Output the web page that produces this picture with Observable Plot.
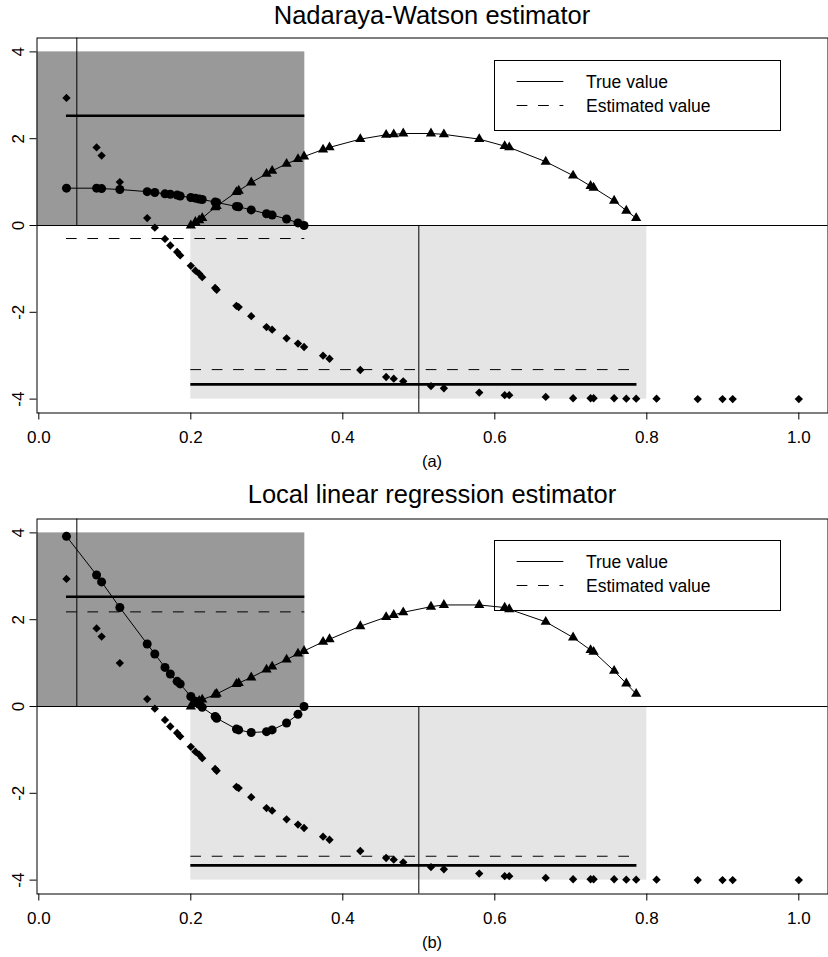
<!DOCTYPE html>
<html>
<head>
<meta charset="utf-8">
<script src="https://cdn.jsdelivr.net/npm/d3@7"></script>
<script src="https://cdn.jsdelivr.net/npm/@observablehq/plot@0.6"></script>
<style>
  body { margin: 0; background: #fff; }
  #fig { position: relative; width: 828px; height: 957px; background: #fff; }
  #fig > div { position: absolute; left: 0; }
  #overlay { position: absolute; left: 0; top: 0; pointer-events: none; }
</style>
</head>
<body>
<div id="fig">
  <div id="p1" style="top:0px"></div>
  <div id="p2" style="top:470px"></div>
</div>
<script>
// ---------------- data ----------------
const titles = ["Nadaraya-Watson estimator", "Local linear regression estimator"];
const captions = ["(a)", "(b)"];
const legendLabels = ["True value", "Estimated value"];

const xTicks = [0.0, 0.2, 0.4, 0.6, 0.8, 1.0];
const yTicks = [-4, -2, 0, 2, 4];

// observed sample (diamonds)
const sampleX = [0.0364, 0.076, 0.0826, 0.1066, 0.1426, 0.1526, 0.166, 0.173, 0.182, 0.186,
  0.200, 0.206, 0.211, 0.215, 0.232, 0.234, 0.260, 0.263, 0.2795, 0.2996,
  0.307, 0.326, 0.341, 0.349, 0.374, 0.3825, 0.423, 0.457, 0.467, 0.4795,
  0.516, 0.533, 0.5795, 0.613, 0.619, 0.667, 0.703, 0.726, 0.730, 0.757,
  0.773, 0.786, 0.8128, 0.867, 0.8996, 0.913, 1.0];
const sampleY = [2.94, 1.80, 1.61, 1.00, 0.17, -0.05, -0.31, -0.46, -0.61, -0.69,
  -0.93, -1.04, -1.11, -1.19, -1.44, -1.48, -1.85, -1.88, -2.09, -2.34,
  -2.40, -2.60, -2.72, -2.80, -3.00, -3.07, -3.33, -3.49, -3.53, -3.59,
  -3.70, -3.75, -3.85, -3.91, -3.91, -3.95, -3.98, -3.98, -3.98, -3.98,
  -3.99, -3.99, -3.99, -4.0, -4.0, -4.0, -4.0];

// windows around the two target points
const winCenter = [0.05, 0.5];
const winLo = [-0.25, 0.2];
const winHi = [0.35, 0.8];
const winYLo = [0, -4];
const winYHi = [4, 0];
const winDir = [1, -1];

// weights at x0 = 0.05 (circles) : x values
const circleX = [0.0364, 0.076, 0.0826, 0.1066, 0.1426, 0.1526, 0.166, 0.173, 0.182, 0.186,
  0.200, 0.206, 0.211, 0.215, 0.232, 0.234, 0.260, 0.263, 0.2795, 0.2996,
  0.307, 0.326, 0.341, 0.349];
// weights at x0 = 0.5 (triangles) : x values
const triX = [0.200, 0.206, 0.211, 0.215, 0.232, 0.234, 0.260, 0.263, 0.2795, 0.2996,
  0.307, 0.326, 0.341, 0.349, 0.374, 0.3825, 0.423, 0.457, 0.467, 0.4795,
  0.516, 0.533, 0.5795, 0.613, 0.619, 0.667, 0.703, 0.726, 0.730, 0.757,
  0.773, 0.786];

// panel (a): Nadaraya-Watson
const nwCircleY = [0.86, 0.86, 0.85, 0.83, 0.78, 0.76, 0.73, 0.72, 0.70, 0.68,
  0.645, 0.63, 0.61, 0.60, 0.54, 0.53, 0.44, 0.43, 0.36, 0.27,
  0.24, 0.15, 0.06, 0.0];
const nwTriY = [0.0, 0.08, 0.12, 0.17, 0.42, 0.45, 0.77, 0.80, 0.99, 1.19,
  1.26, 1.42, 1.53, 1.59, 1.75, 1.80, 1.99, 2.09, 2.10, 2.12,
  2.12, 2.10, 1.99, 1.83, 1.80, 1.47, 1.15, 0.91, 0.87, 0.57,
  0.34, 0.17];
// panel (b): local linear
const llCircleY = [3.92, 3.03, 2.87, 2.28, 1.44, 1.21, 0.90, 0.75, 0.58, 0.52,
  0.23, 0.12, 0.05, -0.02, -0.23, -0.27, -0.52, -0.54, -0.60, -0.58,
  -0.54, -0.38, -0.18, 0.0];
const llTriY = [0.0, 0.08, 0.13, 0.16, 0.27, 0.29, 0.52, 0.54, 0.67, 0.85,
  0.92, 1.08, 1.22, 1.28, 1.49, 1.55, 1.85, 2.06, 2.11, 2.17,
  2.30, 2.34, 2.34, 2.28, 2.24, 1.95, 1.59, 1.30, 1.26, 0.82,
  0.53, 0.29];

// true / estimated values at the two target points, and their drawn extents
const levelX1 = [0.0364, 0.2];
const levelX2 = [0.35, 0.787];
const trueValue = [2.53, -3.66];
const nwEstimate = [-0.30, -3.32];
const llEstimate = [2.18, -3.45];

// ---------------- drawing ----------------
const FONT = "'Liberation Sans', Arial, Helvetica, sans-serif";
const X_DOMAIN = [-0.0024, 1.0384];
const Y_LIM = 4.32;
const DASH = "10.7,10.7";

const sample = sampleX.map((x, i) => ({x, y: sampleY[i]}));
const windows = winCenter.map((c, i) => ({
  center: c, lo: Math.max(winLo[i], X_DOMAIN[0]), hi: winHi[i],
  ylo: winYLo[i], yhi: winYHi[i], dir: winDir[i]
}));

function panel({circleY, triY, estimate, height, marginTop, marginBottom}) {
  const circles = circleX.map((x, i) => ({x, y: circleY[i]}));
  const tris = triX.map((x, i) => ({x, y: triY[i]}));
  const trueLines = trueValue.map((y, i) => ({y, x1: levelX1[i], x2: levelX2[i]}));
  const estLines = estimate.map((y, i) => ({y, x1: levelX1[i], x2: levelX2[i]}));
  return Plot.plot({
    width: 828,
    height,
    marginLeft: 36.5,
    marginRight: 0.5,
    marginTop,
    marginBottom,
    x: {domain: X_DOMAIN},
    y: {domain: [-Y_LIM, Y_LIM]},
    style: {fontFamily: FONT, fontSize: "17px", background: "transparent", overflow: "visible", color: "black"},
    marks: [
      Plot.rect([windows[0]], {x1: "lo", x2: "hi", y1: "ylo", y2: "yhi", fill: "#999999"}),
      Plot.rect([windows[1]], {x1: "lo", x2: "hi", y1: "ylo", y2: "yhi", fill: "#e5e5e5"}),
      Plot.ruleY([0], {stroke: "black", strokeWidth: 1}),
      Plot.ruleX(windows, {x: "center", y1: 0, y2: d => d.dir * Y_LIM, stroke: "black", strokeWidth: 1}),
      Plot.ruleY(trueLines, {y: "y", x1: "x1", x2: "x2", stroke: "black", strokeWidth: 2.6}),
      Plot.ruleY(estLines, {y: "y", x1: "x1", x2: "x2", stroke: "black", strokeWidth: 1, strokeDasharray: DASH}),
      Plot.dot(sample, {x: "x", y: "y", symbol: "diamond2", r: 3.75, fill: "black", stroke: "none"}),
      Plot.line(circles, {x: "x", y: "y", stroke: "black", strokeWidth: 1}),
      Plot.dot(circles, {x: "x", y: "y", symbol: "circle", r: 4.5, fill: "black", stroke: "none"}),
      Plot.line(tris, {x: "x", y: "y", stroke: "black", strokeWidth: 1}),
      Plot.dot(tris, {x: "x", y: "y", symbol: "triangle", r: 3.8, fill: "black", stroke: "none"}),
      Plot.frame({stroke: "black", strokeWidth: 1}),
      Plot.axisX({ticks: xTicks, tickSize: 7, tickPadding: 11, tickFormat: d3.format(".1f"), label: null, fontSize: 17}),
      Plot.axisY({ticks: yTicks, tickSize: 7, tickPadding: 6.2, tickRotate: -90, tickFormat: d => String(d), label: null, fontSize: 17})
    ]
  });
}

document.getElementById("p1").appendChild(panel({
  circleY: nwCircleY, triY: nwTriY, estimate: nwEstimate,
  height: 470, marginTop: 37.5, marginBottom: 57.5
}));
document.getElementById("p2").appendChild(panel({
  circleY: llCircleY, triY: llTriY, estimate: llEstimate,
  height: 487, marginTop: 48.5, marginBottom: 63.5
}));

// titles, captions and legends
const ov = d3.select("#fig").append("svg")
  .attr("id", "overlay").attr("width", 828).attr("height", 957)
  .style("font-family", FONT);
const titleY = [24, 503.3];
const captionY = [466.5, 948.3];
const legendTop = [60.5, 540.5];
titles.forEach((t, i) => {
  ov.append("text").attr("x", 432).attr("y", titleY[i]).attr("text-anchor", "middle")
    .attr("font-size", 25.5).attr("fill", "black").text(t);
  ov.append("text").attr("x", 432).attr("y", captionY[i]).attr("text-anchor", "middle")
    .attr("font-size", 16.5).attr("fill", "black").text(captions[i]);
  const T = legendTop[i];
  ov.append("rect").attr("x", 494.5).attr("y", T).attr("width", 286).attr("height", 70)
    .attr("fill", "none").attr("stroke", "black").attr("stroke-width", 1);
  legendLabels.forEach((lab, j) => {
    const ly = T + 21 + j * 24;
    ov.append("line").attr("x1", 516.7).attr("x2", 563.3).attr("y1", ly).attr("y2", ly)
      .attr("stroke", "black").attr("stroke-width", 1)
      .attr("stroke-dasharray", j === 1 ? DASH : null);
    ov.append("text").attr("x", 586).attr("y", ly + 6.3).attr("font-size", 17.5)
      .attr("fill", "black").text(lab);
  });
});
</script>
</body>
</html>
